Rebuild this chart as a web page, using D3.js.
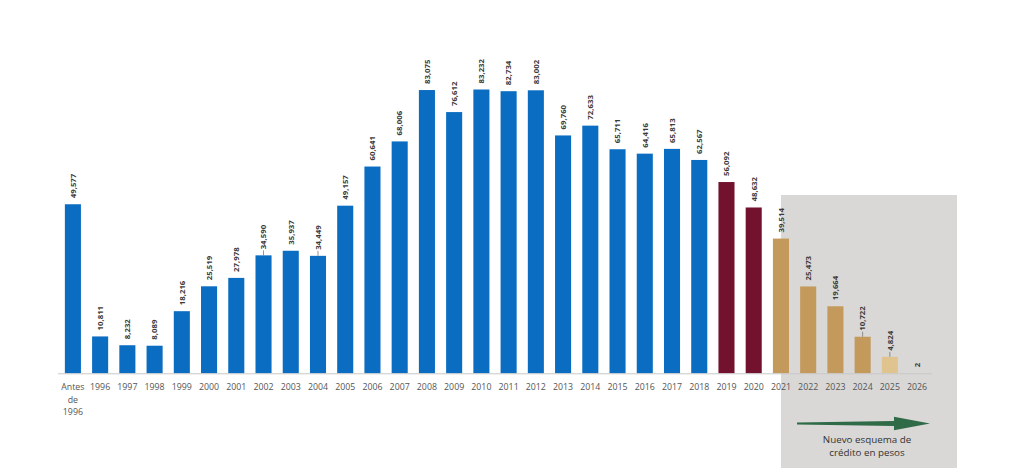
<!DOCTYPE html>
<html>
<head>
<meta charset="utf-8">
<script src="https://cdn.jsdelivr.net/npm/d3@7"></script>
<style>
  html, body { margin: 0; padding: 0; background: #fff; }
  svg { display: block; font-family: "Open Sans", "Noto Sans", sans-serif; }
</style>
</head>
<body>
<svg id="chart" width="1024" height="471"></svg>
<script>
const categories = ["Antes de 1996","1996","1997","1998","1999","2000","2001","2002","2003","2004","2005","2006","2007","2008","2009","2010","2011","2012","2013","2014","2015","2016","2017","2018","2019","2020","2021","2022","2023","2024","2025","2026"];
const values = [49577,10811,8232,8089,18216,25519,27978,34590,35937,34449,49157,60641,68006,83075,76612,83232,82734,83002,69760,72633,65711,64416,65813,62567,56092,48632,39514,25473,19664,10722,4824,2];
const groups = ["a","a","a","a","a","a","a","a","a","a","a","a","a","a","a","a","a","a","a","a","a","a","a","a","b","b","c","c","c","c","d","c"];
const leaderCats = ["2002","2004","2024","2025"];
const boxStartCat = "2021";
const boxLabel = ["Nuevo esquema de", "crédito en pesos"];

const colors = { a: "#0b6dc1", b: "#72122f", c: "#c39a5b", d: "#dfc48f" };
const fmt = d3.format(",");

const svg = d3.select("#chart");
const x = d3.scaleBand().domain(categories).range([58, 932]).paddingInner(0.41).paddingOuter(0.252);
const y = d3.scaleLinear().domain([0, d3.max(values)]).range([373.3, 89.5]);
const data = categories.map((c, i) => ({ c, v: values[i], g: groups[i] }));

// grey box
const boxX = x(boxStartCat) + x.bandwidth() / 2;
svg.append("rect").attr("x", boxX).attr("y", 195).attr("width", 957 - boxX).attr("height", 273)
  .attr("fill", "#d9d8d6");

// bars
svg.append("g").selectAll("rect").data(data).join("rect")
  .attr("x", d => x(d.c)).attr("width", x.bandwidth())
  .attr("y", d => y(d.v)).attr("height", d => y(0) - y(d.v))
  .attr("fill", d => colors[d.g]);

// axis line
svg.append("line").attr("x1", 58).attr("x2", 932).attr("y1", y(0) + 0.5).attr("y2", y(0) + 0.5)
  .attr("stroke", "#c8c8c8").attr("stroke-width", 1);

// leader lines
svg.append("g").selectAll("line").data(data.filter(d => leaderCats.includes(d.c))).join("line")
  .attr("x1", d => x(d.c) + x.bandwidth() / 2).attr("x2", d => x(d.c) + x.bandwidth() / 2)
  .attr("y1", d => y(d.v)).attr("y2", d => y(d.v) - 5)
  .attr("stroke", "#777").attr("stroke-width", 0.8);

// value labels
svg.append("g").selectAll("text").data(data).join("text")
  .attr("transform", d => `translate(${x(d.c) + x.bandwidth() / 2 + 2.8},${y(d.v) - 6}) rotate(-90)`)
  .attr("text-anchor", "start")
  .attr("font-size", 7.8).attr("font-weight", 700).attr("fill", "#3a3a3a")
  .text(d => fmt(d.v));

// category labels
const tl = svg.append("g").selectAll("text").data(categories).join("text")
  .attr("x", d => x(d) + x.bandwidth() / 2).attr("y", 390)
  .attr("text-anchor", "middle").attr("font-size", 8.8).attr("fill", "#555");
tl.each(function(d) {
  const parts = d === "Antes de 1996" ? ["Antes", "de", "1996"] : [d];
  const t = d3.select(this);
  parts.forEach((p, i) => t.append("tspan").attr("x", x(d) + x.bandwidth() / 2).attr("dy", i ? 12.5 : 0).text(p));
});

// arrow
const ax0 = 797, ax1 = 930, ay = 423.5, hl = 36;
svg.append("path")
  .attr("d", `M${ax0},${ay - 0.9} L${ax1 - hl},${ay - 2.6} L${ax1 - hl},${ay - 6.7} L${ax1},${ay} L${ax1 - hl},${ay + 6.7} L${ax1 - hl},${ay + 2.6} L${ax0},${ay + 0.9} Z`)
  .attr("fill", "#2f6b47");

svg.append("g").selectAll("text").data(boxLabel).join("text")
  .attr("x", 867).attr("y", (d, i) => 442.5 + i * 13)
  .attr("text-anchor", "middle").attr("font-size", 9.8).attr("fill", "#333")
  .text(d => d);
</script>
</body>
</html>
